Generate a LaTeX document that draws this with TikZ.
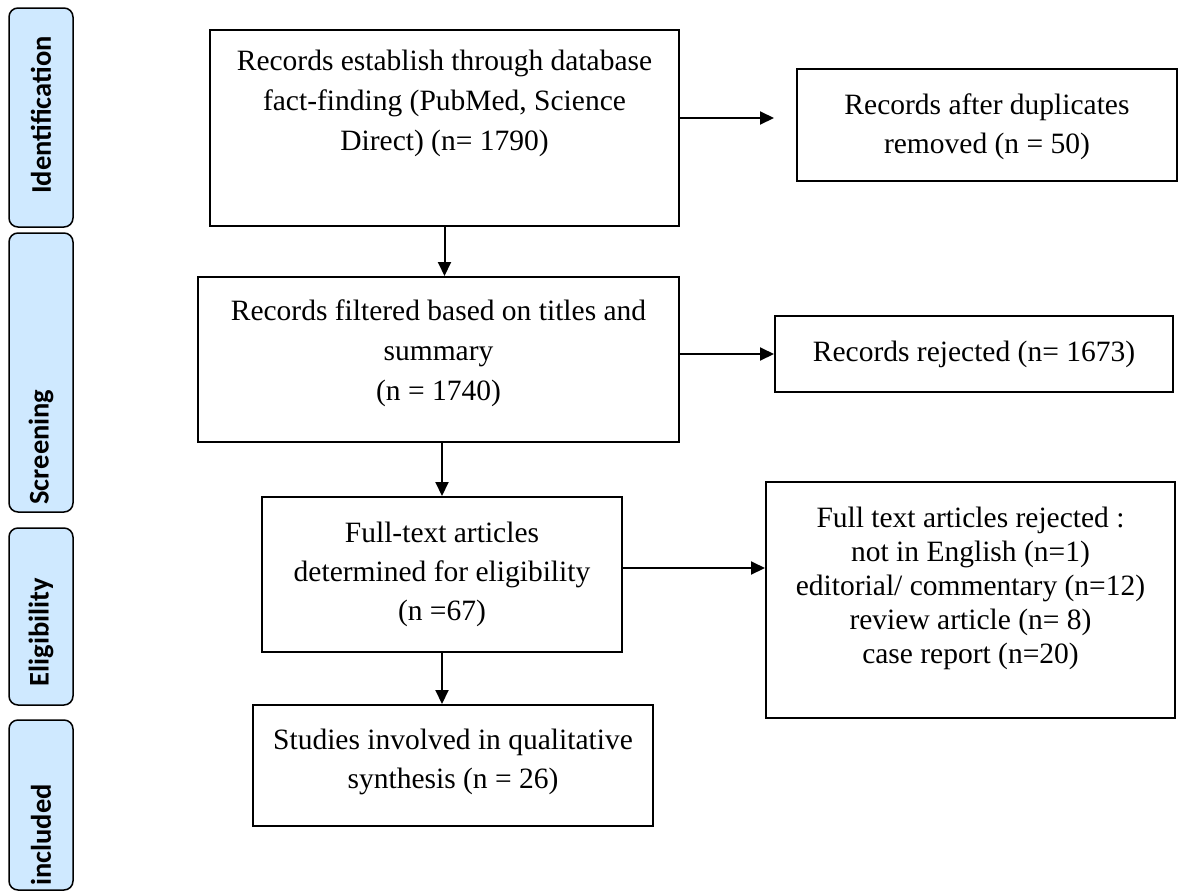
\documentclass[tikz,border=0pt]{standalone}
\usepackage{fontspec}
\setmainfont{Liberation Serif}
\newfontfamily\tabfont{Carlito}
\usetikzlibrary{arrows.meta}
\definecolor{tabblue}{RGB}{207,233,255}
\begin{document}
\begin{tikzpicture}[x=1pt,y=-1pt,
  box/.style={draw=black, line width=2pt, rectangle, inner sep=0pt},
  txt/.style={align=center, font=\fontsize{29.5}{39}\selectfont, inner sep=0pt},
  tab/.style={draw=black, line width=1.5pt, fill=tabblue, rounded corners=9pt, rectangle, inner sep=0pt, minimum width=64pt},
  tabtxt/.style={rotate=90, font=\tabfont\bfseries\fontsize{28.5}{30}\selectfont, inner sep=0pt},
  arr/.style={-{Triangle[length=14pt,width=13pt]}, line width=2pt}]
\useasboundingbox (0,0) rectangle (1192,892);
\fill[white] (0,0) rectangle (1192,892);

% side tabs
\node[tab, minimum height=219pt] (T1) at (41,117.5) {};
\node[tab, minimum height=279pt] (T2) at (41,372.5) {};
\node[tab, minimum height=177pt] (T3) at (41,616.5) {};
\node[tab, minimum height=170pt] (T4) at (41,805) {};
\node[tabtxt] (T1t) at (41,115) {Identification};
\node[tabtxt] (T2t) at (41,447) {Screening};
\node[tabtxt] (T3t) at (41,632) {Eligibility};
\node[tabtxt] (T4t) at (41,835) {included};

% boxes
\node[box, minimum width=469pt, minimum height=196pt] (A) at (444.5,128) {};
\node[box, minimum width=380pt, minimum height=112pt] (B) at (987,125) {};
\node[box, minimum width=481pt, minimum height=165pt] (C) at (438.5,359.5) {};
\node[box, minimum width=398pt, minimum height=76pt] (D) at (974,354) {};
\node[box, minimum width=360pt, minimum height=155pt] (E) at (442,574.5) {};
\node[box, minimum width=409pt, minimum height=236pt] (F) at (970.5,600) {};
\node[box, minimum width=400pt, minimum height=121pt] (G) at (453,765.5) {};

% texts
\node[txt, font=\fontsize{29.5}{40}\selectfont] (At) at (444.5,103) {Records establish through database\\fact-finding (PubMed, Science\\Direct) (n= 1790)};
\node[txt] (Bt) at (987,127) {Records after duplicates\\removed (n = 50)};
\node[txt, font=\fontsize{29.5}{40}\selectfont] (Ct) at (438.5,353) {Records filtered based on titles and\\summary\\(n = 1740)};
\node[txt] (Dt) at (974,354) {Records rejected (n= 1673)};
\node[txt] (Et) at (442,574) {Full-text articles\\determined for eligibility\\(n =67)};
\node[txt, font=\fontsize{29.5}{34}\selectfont] (Ft) at (970.5,588) {Full text articles rejected :\\not in English (n=1)\\editorial/ commentary (n=12)\\review article (n= 8)\\case report (n=20)};
\node[txt] (Gt) at (453,762) {Studies involved in qualitative\\synthesis (n = 26)};

% connectors
\draw[arr, shorten >=22pt] (A.east |- 0,118) -- (B.west |- 0,118);
\draw[arr] (A.south) -- (A.south |- C.north);
\draw[arr] (C.east |- 0,354) -- (D.west |- 0,354);
\draw[arr] (C.south -| E.north) -- (E.north);
\draw[arr] (E.east |- 0,568) -- (F.west |- 0,568);
\draw[arr] (E.south) -- (E.south |- G.north);
\end{tikzpicture}
\end{document}
